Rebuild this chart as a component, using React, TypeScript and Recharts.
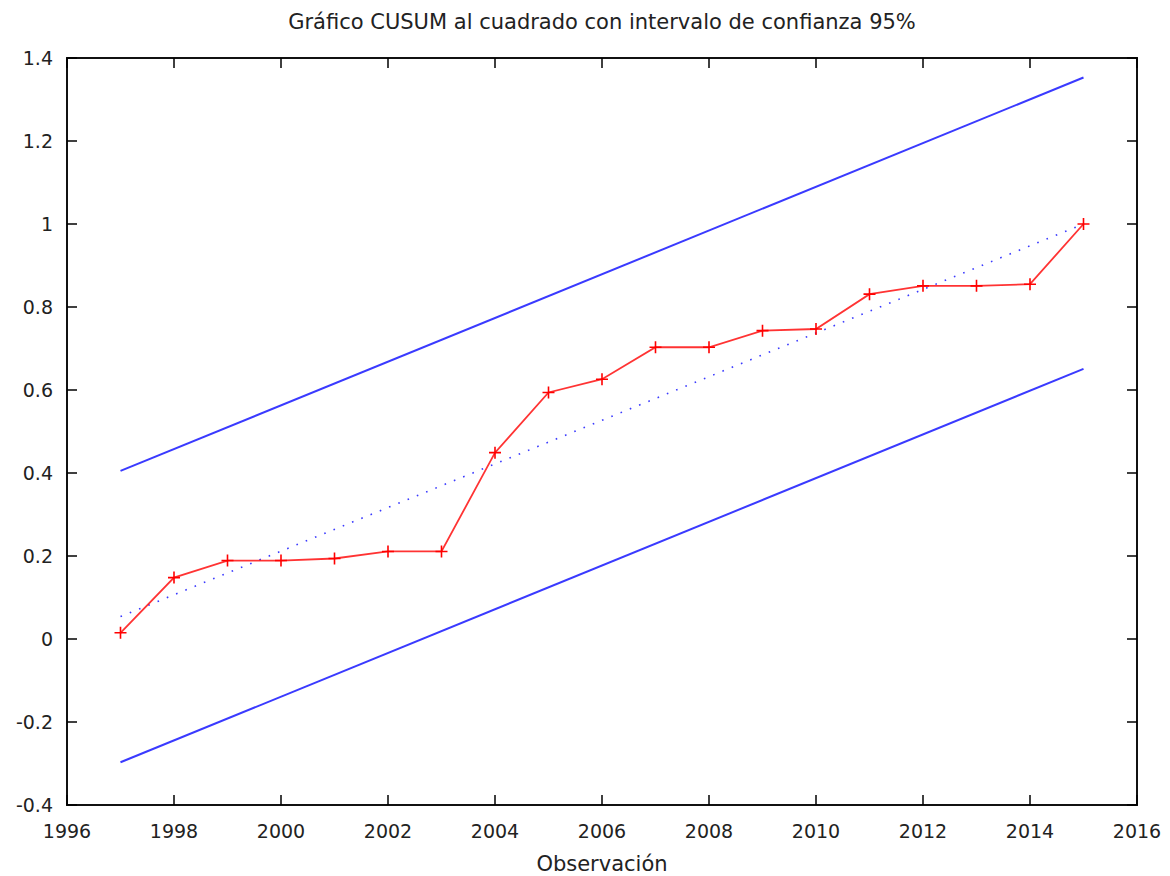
import { LineChart, Line, XAxis, YAxis, ReferenceArea } from 'recharts'

// CUSUM of squares, yearly observations
const years = [1997, 1998, 1999, 2000, 2001, 2002, 2003, 2004, 2005, 2006, 2007, 2008, 2009, 2010, 2011, 2012, 2013, 2014, 2015]
const cusumSq = [0.015, 0.148, 0.189, 0.189, 0.194, 0.211, 0.211, 0.449, 0.594, 0.626, 0.703, 0.703, 0.743, 0.747, 0.831, 0.851, 0.851, 0.855, 1.0]

// straight bands, only their end points are needed
const bandYears = [1997, 2015]
const upperBand = [0.405, 1.353]
const lowerBand = [-0.297, 0.651]
const expectedLine = [0.054, 1.0]

const xTicks = [1996, 1998, 2000, 2002, 2004, 2006, 2008, 2010, 2012, 2014, 2016]
const yTicks = [-0.4, -0.2, 0, 0.2, 0.4, 0.6, 0.8, 1, 1.2, 1.4]

const W = 1162
const H = 868
const M = { top: 50, right: 33, bottom: 0, left: 0 }
const Y_AXIS_W = 59
const X_AXIS_H = 71
const PW = W - M.left - M.right - Y_AXIS_W
const PH = H - M.top - M.bottom - X_AXIS_H
const TICK = 10

const font = '"DejaVu Sans", Verdana, sans-serif'
const red = '#ff0000'
const blue = '#3a3aff'

const data = years.map((year, i) => {
  const b = bandYears.indexOf(year)
  return {
    year,
    cusum: cusumSq[i],
    upper: b >= 0 ? upperBand[b] : undefined,
    lower: b >= 0 ? lowerBand[b] : undefined,
    expected: b >= 0 ? expectedLine[b] : undefined,
  }
})

function XTick({ x, y, payload }: any) {
  return (
    <g>
      <line x1={x} y1={y} x2={x} y2={y - TICK} stroke="#000" strokeWidth={1.5} />
      <line x1={x} y1={y - PH} x2={x} y2={y - PH + TICK} stroke="#000" strokeWidth={1.5} />
      <text x={x} y={y + 33} textAnchor="middle" fontSize={19} fontFamily={font} fill="#222">
        {payload.value}
      </text>
    </g>
  )
}

function YTick({ x, y, payload }: any) {
  return (
    <g>
      <line x1={x} y1={y} x2={x + TICK} y2={y} stroke="#000" strokeWidth={1.5} />
      <line x1={x + PW} y1={y} x2={x + PW - TICK} y2={y} stroke="#000" strokeWidth={1.5} />
      <text x={x - 14} y={y + 7} textAnchor="end" fontSize={19} fontFamily={font} fill="#222">
        {String(payload.value)}
      </text>
    </g>
  )
}

function Cross({ cx, cy, index }: any) {
  if (cx == null || cy == null) return <g key={index} />
  return (
    <path
      key={index}
      d={`M${cx - 6},${cy}H${cx + 6}M${cx},${cy - 6}V${cy + 6}`}
      stroke={red}
      strokeWidth={1.6}
      fill="none"
    />
  )
}

export default function App() {
  return (
    <div style={{ position: 'relative', width: W, height: H, background: '#fff' }}>
      <div
        style={{
          position: 'absolute',
          top: 0,
          left: M.left + Y_AXIS_W,
          width: PW,
          textAlign: 'center',
          fontFamily: font,
          fontSize: 21,
          lineHeight: '28px',
          color: '#222',
        }}
      >
        Gráfico CUSUM al cuadrado con intervalo de confianza 95%
      </div>
      <LineChart width={W} height={H} data={data} margin={M}>
        <XAxis
          dataKey="year"
          type="number"
          domain={[1996, 2016]}
          ticks={xTicks}
          allowDataOverflow
          height={X_AXIS_H}
          axisLine={false}
          tickLine={false}
          tickSize={0}
          tickMargin={0}
          tick={<XTick />}
          interval={0}
          label={{ value: 'Observación', position: 'insideBottom', offset: 5, fontSize: 21, fontFamily: font, fill: '#222' }}
        />
        <YAxis
          type="number"
          domain={[-0.4, 1.4]}
          ticks={yTicks}
          allowDataOverflow
          width={Y_AXIS_W}
          axisLine={false}
          tickLine={false}
          tickSize={0}
          tickMargin={0}
          tick={<YTick />}
          interval={0}
        />
        <ReferenceArea x1={1996} x2={2016} y1={-0.4} y2={1.4} fill="none" fillOpacity={0} stroke="#111" strokeWidth={2} />
        <Line dataKey="upper" stroke={blue} strokeWidth={2} dot={false} connectNulls isAnimationActive={false} />
        <Line dataKey="lower" stroke={blue} strokeWidth={2} dot={false} connectNulls isAnimationActive={false} />
        <Line
          dataKey="expected"
          stroke={blue}
          strokeWidth={1.6}
          strokeDasharray="1.6 8.4"
          dot={false}
          connectNulls
          isAnimationActive={false}
        />
        <Line dataKey="cusum" stroke={red} strokeWidth={1.8} strokeOpacity={0.8} dot={<Cross />} isAnimationActive={false} />
      </LineChart>
    </div>
  )
}
